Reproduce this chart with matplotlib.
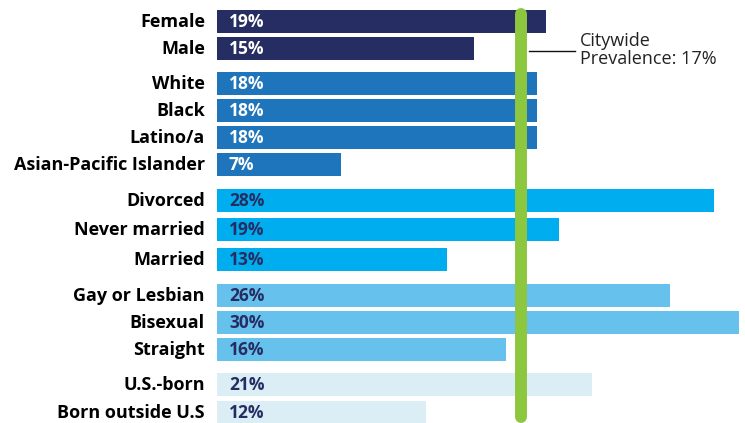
import matplotlib.pyplot as plt

# data
categories = ["Female", "Male",
              "White", "Black", "Latino/a", "Asian-Pacific Islander",
              "Divorced", "Never married", "Married",
              "Gay or Lesbian", "Bisexual", "Straight",
              "U.S.-born", "Born outside U.S"]
values = [18.6, 14.5, 18.1, 18.1, 18.1, 7.0, 28.1, 19.3, 13.0, 25.6, 29.5, 16.3, 21.2, 11.8]
value_labels = ["19%", "15%", "18%", "18%", "18%", "7%", "28%", "19%", "13%",
                "26%", "30%", "16%", "21%", "12%"]
groups = [0, 0, 1, 1, 1, 1, 2, 2, 2, 3, 3, 3, 4, 4]
citywide = 17.2
citywide_label = "Citywide\nPrevalence: 17%"

# styling
group_colors = ["#252d62", "#1f75bc", "#00aeef", "#66c2ed", "#dbedf5"]
group_text = ["white", "white", "#262d62", "#262d62", "#262d62"]
bar_tops = [10, 37, 72, 99, 126, 153, 189, 218, 248, 284, 311, 338, 373, 401]  # pixel layout
bar_h = 23

W, H = 745, 423
fig = plt.figure(figsize=(W / 100, H / 100), dpi=100)
x0 = 217
scale = 17.7
ax = fig.add_axes([x0 / W, 0, 1 - x0 / W, 1])
ax.set_xlim(0, (W - x0) / scale)
ax.set_ylim(H, 0)
ax.set_axis_off()

for i, (cat, v, lab, g) in enumerate(zip(categories, values, value_labels, groups)):
    yc = bar_tops[i] + bar_h / 2
    ax.barh(yc, v, height=bar_h, left=0, color=group_colors[g], zorder=1)
    ax.text(12 / scale, yc + 0.5, lab, ha="left", va="center", color=group_text[g],
            fontsize=12.5, fontweight="bold", family="Open Sans", zorder=2)
    ax.text(-12 / scale, yc + 0.5, cat, ha="right", va="center", color="#000000",
            fontsize=13, fontweight="bold", family="Open Sans", clip_on=False)

ax.plot([citywide, citywide], [14, 417], color="#8dc63f", linewidth=8.6,
        solid_capstyle="round", zorder=3)
ax.plot([citywide + 0.4, (575 - x0) / scale], [51, 51], color="#111111",
        linewidth=1.0, zorder=3)
ax.text((580 - x0) / scale, 50, citywide_label, ha="left", va="center",
        color="#222222", fontsize=13, family="Open Sans", linespacing=0.95)

plt.savefig("out.png", dpi=100)
